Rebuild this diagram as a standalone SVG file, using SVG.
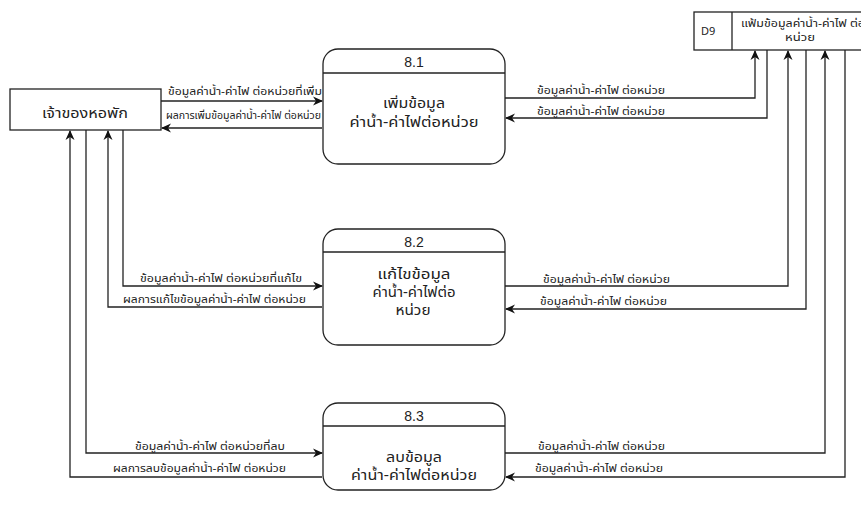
<svg xmlns="http://www.w3.org/2000/svg" width="861" height="516" viewBox="0 0 861 516">
<defs>
<marker id="ah" viewBox="0 0 10 10" refX="9" refY="5" markerWidth="10" markerHeight="10" markerUnits="userSpaceOnUse" orient="auto">
<path d="M0,0.5 L10,5 L0,9.5 L3,5 z" fill="#111"/>
</marker>
<style>
.ln{fill:none;stroke:#222;stroke-width:1.3}
.ar{fill:none;stroke:#222;stroke-width:1.3;marker-end:url(#ah)}
.bx{fill:#fff;stroke:#222;stroke-width:1.3}
text{font-family:"Noto Sans Thai","Tahoma","DejaVu Sans","Liberation Sans",sans-serif;fill:#222}
.lb{font-size:10.5px}
.pt{font-size:13.5px;text-anchor:middle}
.hd{font-family:"Liberation Sans",Arial,sans-serif;font-size:14px;text-anchor:middle}
</style>
</defs>
<rect width="861" height="516" fill="#fff"/>
<g id="connectors">
<path class="ar" d="M161,101 H322"/>
<path class="ar" d="M322,128 H162"/>
<path class="ar" d="M123,130 V286 H322"/>
<path class="ar" d="M322,307 H108 V131"/>
<path class="ar" d="M86,130 V453 H322"/>
<path class="ar" d="M322,477 H70 V131"/>
<path class="ar" d="M505,98 H755 V51"/>
<path class="ar" d="M767,50 V118 H506"/>
<path class="ar" d="M505,286 H788 V51"/>
<path class="ar" d="M806,50 V309 H506"/>
<path class="ar" d="M505,453 H825 V51"/>
<path class="ar" d="M845,50 V477 H506"/>
<text class="lb" x="168" y="95" textLength="154" lengthAdjust="spacingAndGlyphs">ข้อมูลค่าน้ำ-ค่าไฟ ต่อหน่วยที่เพิ่ม</text>
<text class="lb" x="166" y="119" textLength="155" lengthAdjust="spacingAndGlyphs">ผลการเพิ่มข้อมูลค่าน้ำ-ค่าไฟ ต่อหน่วย</text>
<text class="lb" x="140" y="282" textLength="162" lengthAdjust="spacingAndGlyphs">ข้อมูลค่าน้ำ-ค่าไฟ ต่อหน่วยที่แก้ไข</text>
<text class="lb" x="123" y="303" textLength="183" lengthAdjust="spacingAndGlyphs">ผลการแก้ไขข้อมูลค่าน้ำ-ค่าไฟ ต่อหน่วย</text>
<text class="lb" x="135" y="450" textLength="150" lengthAdjust="spacingAndGlyphs">ข้อมูลค่าน้ำ-ค่าไฟ ต่อหน่วยที่ลบ</text>
<text class="lb" x="113" y="472" textLength="173" lengthAdjust="spacingAndGlyphs">ผลการลบข้อมูลค่าน้ำ-ค่าไฟ ต่อหน่วย</text>
<text class="lb" x="537" y="94" textLength="128" lengthAdjust="spacingAndGlyphs">ข้อมูลค่าน้ำ-ค่าไฟ ต่อหน่วย</text>
<text class="lb" x="537" y="115" textLength="128" lengthAdjust="spacingAndGlyphs">ข้อมูลค่าน้ำ-ค่าไฟ ต่อหน่วย</text>
<text class="lb" x="543" y="283" textLength="127" lengthAdjust="spacingAndGlyphs">ข้อมูลค่าน้ำ-ค่าไฟ ต่อหน่วย</text>
<text class="lb" x="540" y="305" textLength="127" lengthAdjust="spacingAndGlyphs">ข้อมูลค่าน้ำ-ค่าไฟ ต่อหน่วย</text>
<text class="lb" x="538" y="450" textLength="127" lengthAdjust="spacingAndGlyphs">ข้อมูลค่าน้ำ-ค่าไฟ ต่อหน่วย</text>
<text class="lb" x="535" y="472" textLength="128" lengthAdjust="spacingAndGlyphs">ข้อมูลค่าน้ำ-ค่าไฟ ต่อหน่วย</text>
</g>
<g id="owner">
<rect class="bx" x="10" y="89" width="151" height="41"/>
<text x="42" y="118" font-size="14" textLength="86" lengthAdjust="spacingAndGlyphs">เจ้าของหอพัก</text>
</g>
<g id="p81">
<rect class="bx" x="323" y="49" width="182" height="115" rx="15"/>
<path class="ln" d="M323,73 H505"/>
<text class="hd" x="414" y="67">8.1</text>
<text class="pt" x="414" y="108" textLength="62" lengthAdjust="spacingAndGlyphs">เพิ่มข้อมูล</text>
<text class="pt" x="414" y="127" textLength="129" lengthAdjust="spacingAndGlyphs">ค่าน้ำ-ค่าไฟต่อหน่วย</text>
</g>
<g id="p82">
<rect class="bx" x="323" y="229" width="182" height="116" rx="15"/>
<path class="ln" d="M323,252 H505"/>
<text class="hd" x="414" y="247">8.2</text>
<text class="pt" x="414" y="279" textLength="73" lengthAdjust="spacingAndGlyphs">แก้ไขข้อมูล</text>
<text class="pt" x="414" y="297" textLength="83" lengthAdjust="spacingAndGlyphs">ค่าน้ำ-ค่าไฟต่อ</text>
<text class="pt" x="413" y="315" textLength="35" lengthAdjust="spacingAndGlyphs">หน่วย</text>
</g>
<g id="p83">
<rect class="bx" x="323" y="403" width="182" height="87" rx="15"/>
<path class="ln" d="M323,426 H505"/>
<text class="hd" x="414" y="421">8.3</text>
<text class="pt" x="414" y="462" textLength="56" lengthAdjust="spacingAndGlyphs">ลบข้อมูล</text>
<text class="pt" x="414" y="480" textLength="126" lengthAdjust="spacingAndGlyphs">ค่าน้ำ-ค่าไฟต่อหน่วย</text>
</g>
<g id="d9">
<rect class="bx" x="694" y="12" width="180" height="38"/>
<path class="ln" d="M732,12 V50"/>
<text x="701" y="35" font-family="Liberation Sans, Arial, sans-serif" font-size="11">D9</text>
<text x="741" y="27" font-size="10.5" textLength="124" lengthAdjust="spacingAndGlyphs">แฟ้มข้อมูลค่าน้ำ-ค่าไฟ ต่อ</text>
<text x="785" y="41" font-size="10.5" textLength="30" lengthAdjust="spacingAndGlyphs">หน่วย</text>
</g>
</svg>
